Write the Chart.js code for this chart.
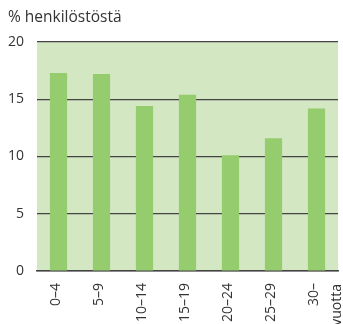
<!DOCTYPE html>
<html>
<head>
<meta charset="utf-8">
<script src="https://cdn.jsdelivr.net/npm/chart.js@4/dist/chart.umd.min.js"></script>
<style>
  html, body { margin: 0; padding: 0; background: #fff; overflow: hidden; }
  #wrap { width: 343px; height: 324px; overflow: hidden; position: relative; }
  #title { position: absolute; left: 8px; top: 5px; font: 15.5px "Open Sans", sans-serif; color: #333; }
  #box { position: absolute; left: 0; top: 0; width: 343px; height: 336px; }
</style>
</head>
<body>
<div id="wrap">
  <div id="box"><canvas id="chart"></canvas></div>
  <div id="title">% henkilöstöstä</div>
</div>
<script>
var categories = ['0–4', '5–9', '10–14', '15–19', '20–24', '25–29', '30–'];
var shares = [17.3, 17.2, 14.4, 15.4, 10.1, 11.6, 14.2];
var yTicks = [0, 5, 10, 15, 20];
var ageUnit = 'vuotta';

var tickFont = '14px "Open Sans"';

// light green fill behind the plot area
var plotBackground = {
  id: 'plotBackground',
  beforeDraw: function(chart) {
    var a = chart.chartArea;
    var ctx = chart.ctx;
    ctx.save();
    ctx.fillStyle = '#d3e7c2';
    ctx.fillRect(a.left, a.top, a.right - a.left, a.bottom - a.top);
    ctx.restore();
  }
};

// unit word set beside the last age group, rotated like the tick labels
var unitLabel = {
  id: 'unitLabel',
  afterDraw: function(chart) {
    var xs = chart.scales.x;
    var ctx = chart.ctx;
    var x = xs.getPixelForTick(categories.length - 1) + 21;
    var y = xs.top + 13;
    ctx.save();
    ctx.translate(x, y);
    ctx.rotate(-Math.PI / 2);
    ctx.font = tickFont;
    ctx.fillStyle = '#333';
    ctx.textAlign = 'right';
    ctx.textBaseline = 'middle';
    ctx.fillText(ageUnit, 0, 0);
    ctx.restore();
  }
};

new Chart(document.getElementById('chart'), {
  type: 'bar',
  data: {
    labels: categories,
    datasets: [{
      data: shares,
      backgroundColor: '#95cc6d',
      borderWidth: 0,
      barPercentage: 0.4,
      categoryPercentage: 1
    }]
  },
  options: {
    responsive: true,
    maintainAspectRatio: false,
    animation: false,
    layout: { padding: { top: 42, right: 5, left: 0, bottom: 0 } },
    plugins: { legend: { display: false }, tooltip: { enabled: false } },
    scales: {
      x: {
        afterFit: function(axis) { axis.height = 65; },
        grid: { display: false },
        border: { color: '#444', width: 1.5 },
        ticks: {
          color: '#333',
          font: { family: 'Open Sans', size: 14 },
          minRotation: 90,
          maxRotation: 90,
          padding: 4,
          labelOffset: -2
        }
      },
      y: {
        min: 0,
        max: 20,
        afterBuildTicks: function(axis) {
          axis.ticks = yTicks.map(function(v) { return { value: v }; });
        },
        afterFit: function(axis) { axis.width = 37; },
        grid: { color: '#444', lineWidth: 1.2, drawTicks: false },
        border: { display: false },
        ticks: {
          color: '#333',
          font: { family: 'Open Sans', size: 14 },
          padding: 13
        }
      }
    }
  },
  plugins: [plotBackground, unitLabel]
});
</script>
</body>
</html>
